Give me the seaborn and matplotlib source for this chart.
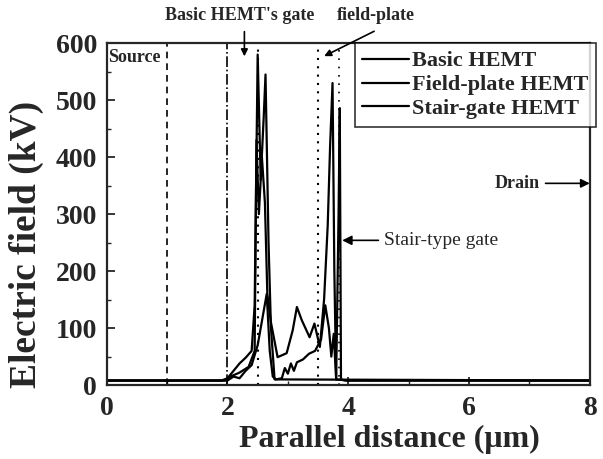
import matplotlib
matplotlib.use("Agg")
import matplotlib.pyplot as plt
import seaborn as sns
import pandas as pd
from matplotlib.ticker import MultipleLocator

# --- données ---
x_basic = [0, 1.9, 2.0, 2.1, 2.2, 2.3, 2.4, 2.45, 2.5, 2.55, 2.6, 2.63, 2.68, 2.72, 2.78, 8]
e_basic = [8, 8, 12, 25, 38, 48, 60, 140, 580, 360, 470, 545, 250, 100, 10, 8]

x_field = [0, 1.95, 2.05, 2.2, 2.35, 2.45, 2.48, 2.52, 2.57, 2.62, 2.66, 2.72, 2.83, 2.98,
           3.08, 3.15, 3.23, 3.36, 3.44, 3.53, 3.6, 3.66, 3.7, 3.74, 3.77, 3.8, 4.0, 8]
e_field = [8, 8, 15, 22, 32, 60, 430, 300, 400, 320, 160, 110, 49, 56,
           96, 137, 114, 84, 108, 67, 150, 280, 420, 530, 200, 10, 8, 8]

x_stair = [0, 2.0, 2.1, 2.2, 2.3, 2.4, 2.5, 2.55, 2.6, 2.65, 2.7, 2.75, 2.8, 2.9, 2.95, 3.0,
           3.05, 3.1, 3.15, 3.25, 3.35, 3.45, 3.55, 3.62, 3.68, 3.72, 3.76, 3.8, 3.84,
           3.86, 3.88, 3.95, 8]
e_stair = [8, 8, 15, 12, 25, 35, 70, 100, 130, 160, 60, 15, 10, 12, 30, 20,
           38, 25, 40, 45, 55, 60, 80, 140, 100, 50, 90, 10, 300,
           486, 10, 8, 8]

series = ["Basic HEMT", "Field-plate HEMT", "Stair-gate HEMT"]

df = pd.concat([
    pd.DataFrame({"x": x_basic, "E": e_basic, "serie": series[0]}),
    pd.DataFrame({"x": x_field, "E": e_field, "serie": series[1]}),
    pd.DataFrame({"x": x_stair, "E": e_stair, "serie": series[2]}),
])

sns.set_style("ticks")
plt.rcParams["font.family"] = ["Liberation Serif", "DejaVu Serif"]
plt.rcParams["font.weight"] = "bold"
plt.rcParams["xtick.direction"] = "in"
plt.rcParams["ytick.direction"] = "in"

fig = plt.figure(figsize=(6.03, 4.59), dpi=100)
ax = fig.add_axes([0.177, 0.161, 0.801, 0.745])

# une courbe par série, dans l'ordre des points
for nom, grp in df.groupby("serie", sort=False):
    sns.lineplot(data=grp, x="x", y="E", sort=False, estimator=None,
                 color="black", linewidth=1.6, ax=ax, label=nom)

# lignes verticales (source, grilles, field-plate)
ax.axvline(1.0, color="black", ls=(0, (4, 3)), lw=1.2)
ax.axvline(2.0, color="black", ls="-.", lw=1.2)
ax.axvline(2.5, color="black", ls=(0, (1, 3)), lw=1.5)
ax.axvline(3.5, color="black", ls=(0, (1, 3)), lw=1.5)
ax.axvline(3.85, color="black", ls=(0, (1, 4)), lw=1.2)

ax.set_xlim(0, 8)
ax.set_ylim(0, 600)
ax.xaxis.set_major_locator(MultipleLocator(2))
ax.xaxis.set_minor_locator(MultipleLocator(1))
ax.yaxis.set_major_locator(MultipleLocator(100))
ax.yaxis.set_minor_locator(MultipleLocator(50))
ax.tick_params(which="major", length=6, width=1.3, labelsize=20, top=False, right=False)
ax.tick_params(axis="x", which="major", pad=8)
ax.tick_params(axis="y", which="major", pad=7)
ax.tick_params(which="minor", length=3, width=1.0)
for s in ax.spines.values():
    s.set_linewidth(1.6)
    s.set_visible(True)

ax.set_xlabel("Parallel distance (\u03bcm)", fontsize=23, fontweight="bold")
ax.set_ylabel("Electric field (kV)", fontsize=27, fontweight="bold")
ax.xaxis.set_label_coords(0.586, -0.115)
ax.yaxis.set_label_coords(-0.13, 0.41)

leg = ax.legend(loc="upper right", bbox_to_anchor=(1.014, 1.0), fontsize=16,
                frameon=True, fancybox=False, edgecolor="black", handlelength=2.1,
                handletextpad=0.15, labelspacing=0.15, borderpad=0.35, borderaxespad=0)
leg.get_frame().set_linewidth(1.2)
for t in leg.get_texts():
    t.set_fontweight("bold")

# annotations
ax.text(0.02, 575, "Source", fontsize=13, fontweight="bold", ha="left", va="center")
ax.text(2.2, 648, "Basic HEMT's gate", fontsize=13, fontweight="bold",
        ha="center", va="center", clip_on=False)
ax.annotate("", xy=(2.28, 572), xytext=(2.28, 625), annotation_clip=False,
            arrowprops=dict(arrowstyle="-|>", color="black", lw=1.2))
ax.text(4.45, 648, "field-plate", fontsize=13, fontweight="bold",
        ha="center", va="center", clip_on=False)
ax.annotate("", xy=(3.56, 575), xytext=(4.47, 623), annotation_clip=False,
            arrowprops=dict(arrowstyle="-|>", color="black", lw=1.2))
ax.annotate("Stair-type gate", xy=(3.9, 254), xytext=(4.6, 254), fontsize=14,
            fontweight="normal", ha="left", va="center",
            arrowprops=dict(arrowstyle="-|>", color="black", lw=1.2, shrinkB=0))
ax.annotate("Drain", xy=(8.0, 354), xytext=(6.42, 354), fontsize=13,
            fontweight="bold", ha="left", va="center",
            arrowprops=dict(arrowstyle="-|>", color="black", lw=1.2, shrinkB=0))

plt.savefig("out.png", dpi=100)
